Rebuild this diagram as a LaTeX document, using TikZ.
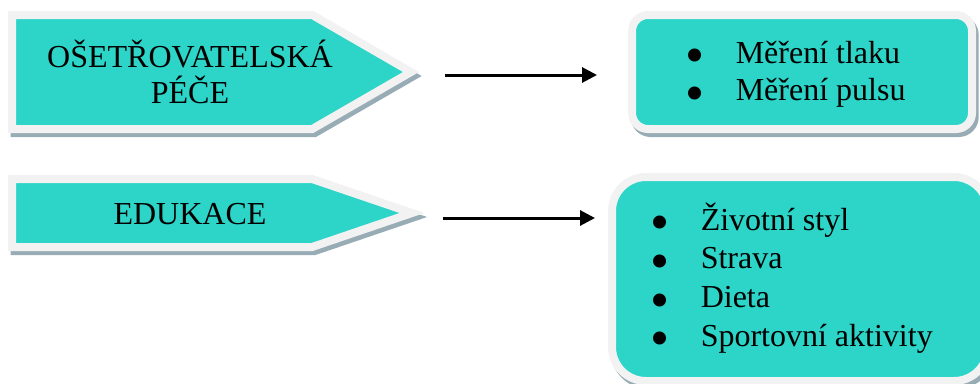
\documentclass[tikz,border=0pt]{standalone}
\usepackage{fontspec}
\setmainfont{Liberation Serif}
\usetikzlibrary{shapes.symbols,shadows,arrows.meta}
\definecolor{tyrkys}{RGB}{44,213,200}
\definecolor{okraj}{RGB}{242,242,242}
\definecolor{stin}{RGB}{152,172,181}
\newcommand{\bod}{\makebox[16pt][c]{\smash{\raisebox{-8pt}{\scalebox{1.7}{\textbullet}}}}\hspace{22.4pt}}

\begin{document}
\begin{tikzpicture}[x=0.75pt,y=-0.75pt,
    font=\fontsize{24}{28}\selectfont,
    box/.style={draw=okraj,line width=6pt,fill=tyrkys,outer sep=0pt,inner sep=0pt,
      drop shadow={shadow xshift=2pt,shadow yshift=-3pt,fill=stin,draw=stin,opacity=1}},
    sipka/.style={box,signal,signal to=east,signal from=nowhere,anchor=west},
    txt/.style={inner sep=0pt,anchor=base},
    spoj/.style={line width=2.25pt,-{Triangle[length=11.25pt,width=11.25pt]}}]
        \useasboundingbox (0,0) rectangle (980,383);
        % sipky vlevo
        \draw (12,72) node[sipka,signal pointer angle=60,minimum width=299.25pt,minimum height=85.5pt](ose){};
        \draw (12,213) node[sipka,signal pointer angle=37.6,minimum width=300pt,minimum height=51pt](edu){};
        % ramecky vpravo
        \draw (802,72) node[box,rounded corners=12pt,minimum width=255pt,minimum height=85.5pt](tl){};
        \draw (800,279) node[box,rounded corners=25.5pt,minimum width=282pt,minimum height=153pt](lst){};
        % texty
        \draw (190,67) node[txt,font=\fontsize{24}{27}\selectfont](ose-t){\begin{tabular}[t]{@{}c@{}}OŠETŘOVATELSKÁ\\\smash{PÉČE}\end{tabular}};
        \draw (190,224) node[txt](edu-t){EDUKACE};
        \draw (684.3,63) node[txt,anchor=base west](tl-t){\begin{tabular}[t]{@{}l@{}}\bod Měření tlaku\\\bod Měření pulsu\end{tabular}};
        \draw (649.3,230) node[txt,anchor=base west,font=\fontsize{24}{29}\selectfont](lst-t){\begin{tabular}[t]{@{}l@{}}\bod Životní styl\\\bod Strava\\\bod Dieta\\\bod Sportovní aktivity\end{tabular}};
        % spojnice
        \draw[spoj,shorten <=25.5pt,shorten >=26.25pt]
          ([yshift=-2.25pt]ose.east) -- ([yshift=-2.25pt]ose.east -| tl.west);
        \draw[spoj,shorten <=23.25pt,shorten >=12.75pt]
          ([yshift=-3.75pt]edu.east) -- ([yshift=-3.75pt]edu.east -| lst.west);
\end{tikzpicture}
\end{document}
